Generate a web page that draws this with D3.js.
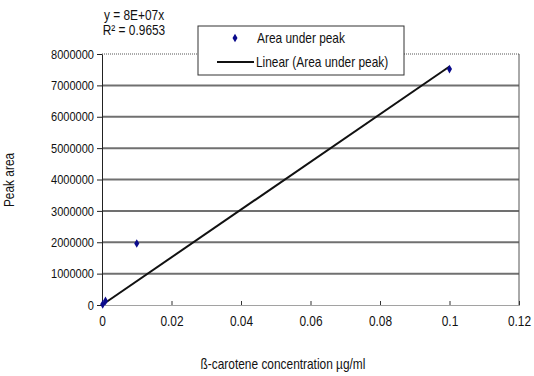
<!DOCTYPE html>
<html>
<head>
<meta charset="utf-8">
<script src="https://cdn.jsdelivr.net/npm/d3@7"></script>
<style>
  body { margin: 0; background: #fff; }
  text { font-family: "Liberation Sans", Arial, sans-serif; fill: #111; }
</style>
</head>
<body>
<svg id="container" width="534" height="376"></svg>
<script>
// measured points (concentration, peak area)
const concentrations = [0.0002, 0.001, 0.01, 0.1];
const areas = [20000, 130000, 1960000, 7520000];
const slope = 7.6e7; // linear trend through origin
const xTicks = [0, 0.02, 0.04, 0.06, 0.08, 0.1, 0.12];
const yTicks = [0, 1000000, 2000000, 3000000, 4000000, 5000000, 6000000, 7000000, 8000000];

const svg = d3.select('#container');
const margin = {left: 102, right: 15, top: 54, bottom: 71};
const width = +svg.attr('width');
const height = +svg.attr('height');
const squeeze = 0.85; // fake a narrow font

// squeeze text horizontally around its x position
function condense(sel) {
    sel.each(function() {
        const t = d3.select(this);
        const tx = +t.attr('x') || 0;
        t.attr('x', 0).attr('transform', `translate(${tx},0) scale(${squeeze},1)`);
    });
}

const x = d3.scaleLinear().domain([0, 0.12]).range([margin.left, width - margin.right]);
const y = d3.scaleLinear().domain([0, 8000000]).range([height - margin.bottom, margin.top]);

// gridlines
svg.selectAll('line.grid')
    .data(yTicks.slice(1, -1))
    .enter()
    .append('line')
    .attr('class', 'grid')
    .attr('x1', x(0)).attr('x2', x(0.12))
    .attr('y1', d => y(d)).attr('y2', d => y(d))
    .attr('stroke', '#707070')
    .attr('stroke-width', 2);

// plot border: dotted top & bottom, solid right
svg.append('line')
    .attr('x1', x(0)).attr('x2', x(0.12)).attr('y1', y(8000000)).attr('y2', y(8000000))
    .attr('stroke', '#555').attr('stroke-dasharray', '1,1');
svg.append('line')
    .attr('x1', x(0.12)).attr('x2', x(0.12)).attr('y1', y(8000000)).attr('y2', y(0))
    .attr('stroke', '#555');

// axes
const xAxis = svg.append('g')
    .attr('transform', `translate(0,${y(0)})`)
    .call(d3.axisBottom(x).tickValues(xTicks).tickSize(4).tickSizeOuter(0).tickPadding(7)
        .tickFormat(d => d === 0 ? '0' : d3.format('')(+d.toFixed(2))));
xAxis.select('.domain').attr('stroke', '#444').attr('stroke-dasharray', '1,1');
xAxis.selectAll('.tick line').attr('stroke', '#333').attr('transform', 'translate(0,-4)');
xAxis.selectAll('text').style('font-size', '14px').attr('fill', '#111').call(condense);

const yAxis = svg.append('g')
    .attr('transform', `translate(${x(0)},0)`)
    .call(d3.axisLeft(y).tickValues(yTicks).tickSize(5).tickSizeOuter(0).tickPadding(3)
        .tickFormat(d3.format('d')));
yAxis.select('.domain').attr('stroke', '#222');
yAxis.selectAll('.tick line').attr('stroke', '#222');
yAxis.selectAll('text').style('font-size', '13px').attr('fill', '#111').call(condense);

// trendline
svg.append('line')
    .attr('x1', x(0)).attr('y1', y(0))
    .attr('x2', x(0.1)).attr('y2', y(slope * 0.1))
    .attr('stroke', '#111')
    .attr('stroke-width', 2);

// points
const diamond = d3.symbol().type(d3.symbolDiamond).size(22);
svg.selectAll('path.pt')
    .data(concentrations.map((c, i) => ({c, a: areas[i]})))
    .enter()
    .append('path')
    .attr('class', 'pt')
    .attr('d', diamond)
    .attr('transform', d => `translate(${x(d.c)},${y(d.a)})`)
    .attr('fill', '#0a0a8c');

// equation
svg.append('text').attr('x', 134).attr('y', 20).attr('text-anchor', 'middle')
    .style('font-size', '14px').text('y = 8E+07x').call(condense);
svg.append('text').attr('x', 134).attr('y', 35).attr('text-anchor', 'middle')
    .style('font-size', '14px').text('R² = 0.9653').call(condense);

// legend
const legend = svg.append('g');
legend.append('rect')
    .attr('x', 198).attr('y', 26).attr('width', 206).attr('height', 49)
    .attr('fill', '#fff').attr('stroke', '#333');
legend.append('path')
    .attr('d', diamond)
    .attr('transform', 'translate(235,38)')
    .attr('fill', '#0a0a8c');
legend.append('text').attr('x', 257).attr('y', 43).style('font-size', '14px')
    .text('Area under peak').call(condense);
legend.append('line')
    .attr('x1', 217).attr('x2', 254).attr('y1', 62).attr('y2', 62)
    .attr('stroke', '#111').attr('stroke-width', 2);
legend.append('text').attr('x', 256).attr('y', 67).style('font-size', '14px')
    .text('Linear (Area under peak)').call(condense);

// axis titles
svg.append('text')
    .attr('transform', `translate(14,180) rotate(-90) scale(${squeeze},1)`)
    .attr('text-anchor', 'middle')
    .style('font-size', '14px')
    .text('Peak area');
svg.append('text')
    .attr('x', 283).attr('y', 369)
    .attr('text-anchor', 'middle')
    .style('font-size', '14px')
    .text('ß-carotene concentration µg/ml').call(condense);
</script>
</body>
</html>
